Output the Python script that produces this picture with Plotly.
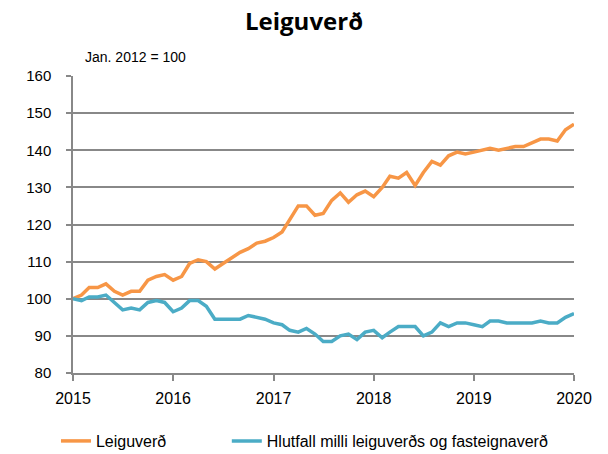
import plotly.graph_objects as go
import pandas as pd

dates = pd.date_range("2015-01-01", "2020-01-01", freq="MS")

leiguverd = [100, 101, 103, 103, 104, 102, 101, 102, 102, 105, 106, 106.5,
             105, 106, 109.5, 110.5, 110, 108, 109.5, 111, 112.5, 113.5, 115, 115.5,
             116.5, 118, 121.5, 125, 125, 122.5, 123, 126.5, 128.5, 126, 128, 129,
             127.5, 130, 133, 132.5, 134, 130.5, 134, 137, 136, 138.5, 139.5, 139,
             139.5, 140, 140.5, 140, 140.5, 141, 141, 142, 143, 143, 142.5, 145.5,
             147]

hlutfall = [100, 99.5, 100.5, 100.5, 101, 99, 97, 97.5, 97, 99, 99.5, 99,
            96.5, 97.5, 99.5, 99.5, 98, 94.5, 94.5, 94.5, 94.5, 95.5, 95, 94.5,
            93.5, 93, 91.5, 91, 92, 90.5, 88.5, 88.5, 90, 90.5, 89, 91,
            91.5, 89.5, 91, 92.5, 92.5, 92.5, 90, 91, 93.5, 92.5, 93.5, 93.5,
            93, 92.5, 94, 94, 93.5, 93.5, 93.5, 93.5, 94, 93.5, 93.5, 95,
            96]

year_ticks = ["2015-01-01", "2016-01-01", "2017-01-01", "2018-01-01", "2019-01-01", "2020-01-01"]
year_labels = ["2015", "2016", "2017", "2018", "2019", "2020"]

font = "Liberation Sans, Arial, sans-serif"

fig = go.Figure()
fig.add_trace(go.Scatter(x=dates, y=leiguverd, mode="lines", name="Leiguverð",
                         line=dict(color="#F79646", width=3.5), legend="legend"))
fig.add_trace(go.Scatter(x=dates, y=hlutfall, mode="lines",
                         name="Hlutfall milli leiguverðs og fasteignaverð",
                         line=dict(color="#4BACC6", width=3.5), legend="legend2"))

leg_common = dict(orientation="h", yanchor="middle", y=-0.229, xanchor="left",
                  font=dict(size=16, family=font), bgcolor="rgba(0,0,0,0)")

fig.update_layout(
    width=608, height=454,
    margin=dict(l=73, r=34, t=76, b=81, autoexpand=False),
    paper_bgcolor="white", plot_bgcolor="white",
    font=dict(family=font, size=15, color="black"),
    title=dict(text="<b>Leiguverð</b>", x=0.5, xanchor="center", y=0.953, yanchor="middle",
               font=dict(size=24, family="Open Sans, sans-serif")),
    showlegend=True,
    legend=dict(x=-0.034, **leg_common),
    legend2=dict(x=0.307, **leg_common),
    xaxis=dict(range=["2015-01-01", "2020-01-01"], tickvals=year_ticks, ticktext=year_labels,
               showgrid=False, showline=True, linecolor="#888", linewidth=1.5,
               ticks="outside", tickcolor="#888", ticklen=6, tickwidth=1.5,
               ticklabelstandoff=4, tickfont=dict(size=16), zeroline=False),
    yaxis=dict(range=[80, 160], dtick=10, showgrid=True, gridcolor="#888", gridwidth=1.5,
               showline=True, linecolor="#888", linewidth=1.5,
               ticks="outside", tickcolor="#888", ticklen=5, tickwidth=1.5,
               ticklabelstandoff=12, tickfont=dict(size=15), zeroline=False),
    annotations=[dict(text="Jan. 2012 = 100", xref="paper", yref="paper", x=0.02, y=1.064,
                      xanchor="left", yanchor="middle", showarrow=False,
                      font=dict(size=14, family=font))],
)

fig.write_html("out.html", config={"displayModeBar": False},
               post_script="document.body.style.margin='0';")
